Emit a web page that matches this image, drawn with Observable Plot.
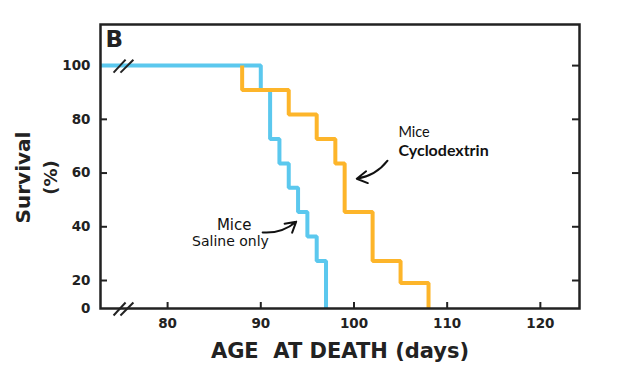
<!DOCTYPE html>
<html>
<head>
<meta charset="utf-8">
<script src="https://cdn.jsdelivr.net/npm/d3@7"></script>
<script src="https://cdn.jsdelivr.net/npm/@observablehq/plot@0.6"></script>
<style>
  html, body { margin: 0; padding: 0; background: #fff; }
  #chart { width: 631px; height: 379px; }
</style>
</head>
<body>
<div id="chart"></div>
<script>
// ---- data ----
const xMin = 72.8, xMax = 124.2;
const salineDays = [xMin, 90, 91, 92, 93, 94, 95, 96, 97];
const salineSurv = [100, 90.9, 72.7, 63.6, 54.5, 45.5, 36.4, 27.3, 0];
const cycloDays  = [88, 88, 93, 96, 98, 99, 102, 105, 108];
const cycloSurv  = [100, 90.9, 81.8, 72.7, 63.6, 45.5, 27.3, 18.2, 0];

const xTicks = [80, 90, 100, 110, 120];
const yTicks = [0, 20, 40, 60, 80, 100];
const yTickMarks = [20, 40, 60, 80, 100];

// annotation labels (data coordinates)
const cycloLabels = ["Mice", "Cyclodextrin"];
const cycloLabelX = [104.77, 104.77];
const cycloLabelY = [75.3, 68.3];
const salineLabels = ["Mice", "Saline only"];
const salineLabelX = [87.15, 86.75];
const salineLabelY = [40.7, 34.5];

// arrows [x1, y1, x2, y2]
const arrowCyclo = [103.6, 64.6, 100.3, 57.9];
const arrowSaline = [90.2, 37.9, 93.8, 41.9];

// axis-break slashes
const breakX1 = [74.2, 74.94];
const breakX2 = [75.49, 76.33];
const breakTopY = [97.4, 102.2];
const breakBotY = [-5, 4.3];

// the survival axis is compressed below 20 % (0 sits on the x axis)
const yT = v => v >= 20 ? v : 20 - (20 - v) * (28 / 53.75);
const yTop = 115.3;

const saline = salineDays.map((d, i) => ({day: d, surv: salineSurv[i]}));
const cyclo = cycloDays.map((d, i) => ({day: d, surv: cycloSurv[i]}));
const slashes = [];
for (const yy of [breakTopY, breakBotY]) {
  for (let i = 0; i < breakX1.length; i++) {
    slashes.push({x1: breakX1[i], x2: breakX2[i], y1: yy[0], y2: yy[1]});
  }
}

const W = 631, H = 379, mL = 100, mR = 52, mT = 24, mB = 71;
const plotW = W - mL - mR, plotH = H - mT - mB;
const ink = "#222";
const bold = {fontFamily: "DejaVu Sans", fontWeight: "bold", fill: ink};

const chart = Plot.plot({
  width: W, height: H,
  marginLeft: mL, marginRight: mR, marginTop: mT, marginBottom: mB,
  style: {background: "#fff", overflow: "visible"},
  x: {domain: [xMin, xMax], axis: null},
  y: {domain: [yT(0), yTop], axis: null},
  marks: [
    // tick labels
    Plot.text(xTicks, {x: d => d, frameAnchor: "bottom", lineAnchor: "middle", dy: 15, fontSize: 13.5, ...bold}),
    Plot.text(yTicks, {y: d => yT(d), frameAnchor: "left", textAnchor: "end", lineAnchor: "middle", dx: -10, fontSize: 13.5, ...bold}),
    // inward tick marks
    Plot.tickY(yTickMarks, {y: d => yT(d), insetRight: plotW - 7, stroke: ink, strokeWidth: 2}),
    Plot.tickY(yTickMarks, {y: d => yT(d), insetLeft: plotW - 7, stroke: ink, strokeWidth: 2}),
    Plot.tickX(xTicks, {x: d => d, insetTop: plotH - 6, stroke: ink, strokeWidth: 2}),
    // survival curves
    Plot.line(saline, {x: "day", y: d => yT(d.surv), curve: "step-after", stroke: "#5BC8EE", strokeWidth: 4, strokeLinejoin: "miter", strokeLinecap: "butt"}),
    Plot.line(cyclo, {x: "day", y: d => yT(d.surv), curve: "step-after", stroke: "#FDB52A", strokeWidth: 4, strokeLinejoin: "miter", strokeLinecap: "butt"}),
    Plot.frame({stroke: ink, strokeWidth: 2.5}),
    Plot.link(slashes, {x1: "x1", y1: d => yT(d.y1), x2: "x2", y2: d => yT(d.y2), stroke: ink, strokeWidth: 2}),
    // titles
    Plot.text(["B"], {frameAnchor: "top-left", dx: 5, dy: 6, fontSize: 23, ...bold}),
    Plot.text(["Survival"], {frameAnchor: "left", textAnchor: "middle", lineAnchor: "middle", rotate: -90, dx: -77, dy: 11, fontSize: 20, ...bold}),
    Plot.text(["(%)"], {frameAnchor: "left", textAnchor: "middle", lineAnchor: "middle", rotate: -90, dx: -49, dy: 11, fontSize: 18, ...bold}),
    Plot.text(["AGE  AT DEATH (days)"], {frameAnchor: "bottom", textAnchor: "middle", lineAnchor: "middle", dy: 42.5, fontSize: 21, ...bold}),
    // annotations
    Plot.text([cycloLabels[0]], {x: [cycloLabelX[0]], y: [yT(cycloLabelY[0])], textAnchor: "start", fontFamily: "Lato", fontSize: 14.5, fill: "#111"}),
    Plot.text([cycloLabels[1]], {x: [cycloLabelX[1]], y: [yT(cycloLabelY[1])], textAnchor: "start", fontFamily: "Lato", fontWeight: "bold", fontSize: 16, fill: "#111"}),
    Plot.text([salineLabels[0]], {x: [salineLabelX[0]], y: [yT(salineLabelY[0])], textAnchor: "middle", fontFamily: "DejaVu Sans", fontSize: 15, fill: "#111"}),
    Plot.text([salineLabels[1]], {x: [salineLabelX[1]], y: [yT(salineLabelY[1])], textAnchor: "middle", fontFamily: "DejaVu Sans", fontSize: 14, fill: "#111"}),
    Plot.arrow([arrowCyclo], {x1: d => d[0], y1: d => yT(d[1]), x2: d => d[2], y2: d => yT(d[3]), bend: 22, stroke: "#111", strokeWidth: 2, headLength: 9}),
    Plot.arrow([arrowSaline], {x1: d => d[0], y1: d => yT(d[1]), x2: d => d[2], y2: d => yT(d[3]), bend: -22, stroke: "#111", strokeWidth: 2, headLength: 9})
  ]
});
chart.querySelectorAll("text").forEach(t => { t.setAttribute("xml:space", "preserve"); t.style.whiteSpace = "pre"; });
document.getElementById("chart").appendChild(chart);
</script>
</body>
</html>
